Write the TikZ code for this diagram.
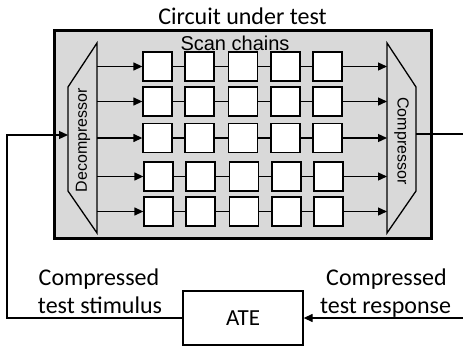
\documentclass[tikz,border=0pt]{standalone}
\usepackage{fontspec}
\setmainfont{Carlito}
\newfontfamily\arialf{Liberation Sans}
\usetikzlibrary{arrows.meta}
\begin{document}
\begin{tikzpicture}[x=1pt,y=-1pt,
  cell/.style={draw=black,fill=white,line width=1.3pt,minimum width=29pt,minimum height=29pt,inner sep=0pt},
  wire/.style={line width=1.3pt},
  arr/.style={wire,-{Triangle[length=9pt,width=8pt]}},
  lbl/.style={font=\fontsize{24}{28}\selectfont,inner sep=0pt,anchor=base},
  vlbl/.style={font=\arialf\fontsize{16}{18}\selectfont,inner sep=0pt},
  bgfill/.style={fill=black!15}
]
\useasboundingbox (0,0) rectangle (463,348);
% outer circuit box
\node[draw=black,line width=3pt,bgfill,minimum width=377pt,minimum height=208pt,inner sep=0pt] (cut) at (243,134.5) {};
\node[lbl] (title) at (242.5,24) {Circuit under test};
\node[font=\arialf\fontsize{20}{22}\selectfont,inner sep=0pt,anchor=base] (scan) at (235,50) {Scan chains};
% decompressor
\draw[wire,bgfill] (68,87) -- (97,43) -- (97,233) -- (68,191) -- cycle;
\coordinate (din) at (68,135);
\node[vlbl,rotate=90] (dec) at (83,140) {Decompressor};
% compressor
\draw[wire,bgfill] (387,43) -- (416,87) -- (416,191) -- (387,233) -- cycle;
\coordinate (cout) at (416,134);
\node[vlbl,rotate=-90] (comp) at (401.5,141) {Compressor};
% scan cells
\foreach \r/\y/\dx in {1/66.5/0,2/101.5/0,3/138/0,4/176.5/1,5/211.5/1}{
  \foreach \c/\x in {1/157.5,2/199.5,3/243,4/285.5,5/327.5}{
    \node[cell] (c\r\c) at (\x+\dx,\y) {};
  }
  \coordinate (dout\r) at (97,\y);
  \coordinate (cin\r) at (387,\y);
  \draw[arr] (dout\r) -- (c\r1.west);
  \draw[wire] (c\r1.east) -- (c\r2.west);
  \draw[wire] (c\r2.east) -- (c\r3.west);
  \draw[wire] (c\r3.east) -- (c\r4.west);
  \draw[wire] (c\r4.east) -- (c\r5.west);
  \draw[arr] (c\r5.east) -- (cin\r);
}
% ATE
\node[draw=black,wire,fill=white,minimum width=120pt,minimum height=54pt,inner sep=0pt,font=\fontsize{23}{26}\selectfont] (ate) at (243,318) {ATE};
\coordinate (lcorner) at (7,318);
\coordinate (rout) at (463,134);
\coordinate (rin) at (463,318);
\draw[arr] (ate.west) -- (lcorner) |- (din);
\draw[wire] (cout) -- (rout);
\draw[arr] (rin) -- (ate.east);
% labels
\node[lbl] (l1) at (99,285) {Compressed};
\node[lbl] (l2) at (100,313) {test stimulus};
\node[lbl] (r1) at (386.5,285) {Compressed};
\node[lbl] (r2) at (385.5,313) {test response};
\end{tikzpicture}
\end{document}
